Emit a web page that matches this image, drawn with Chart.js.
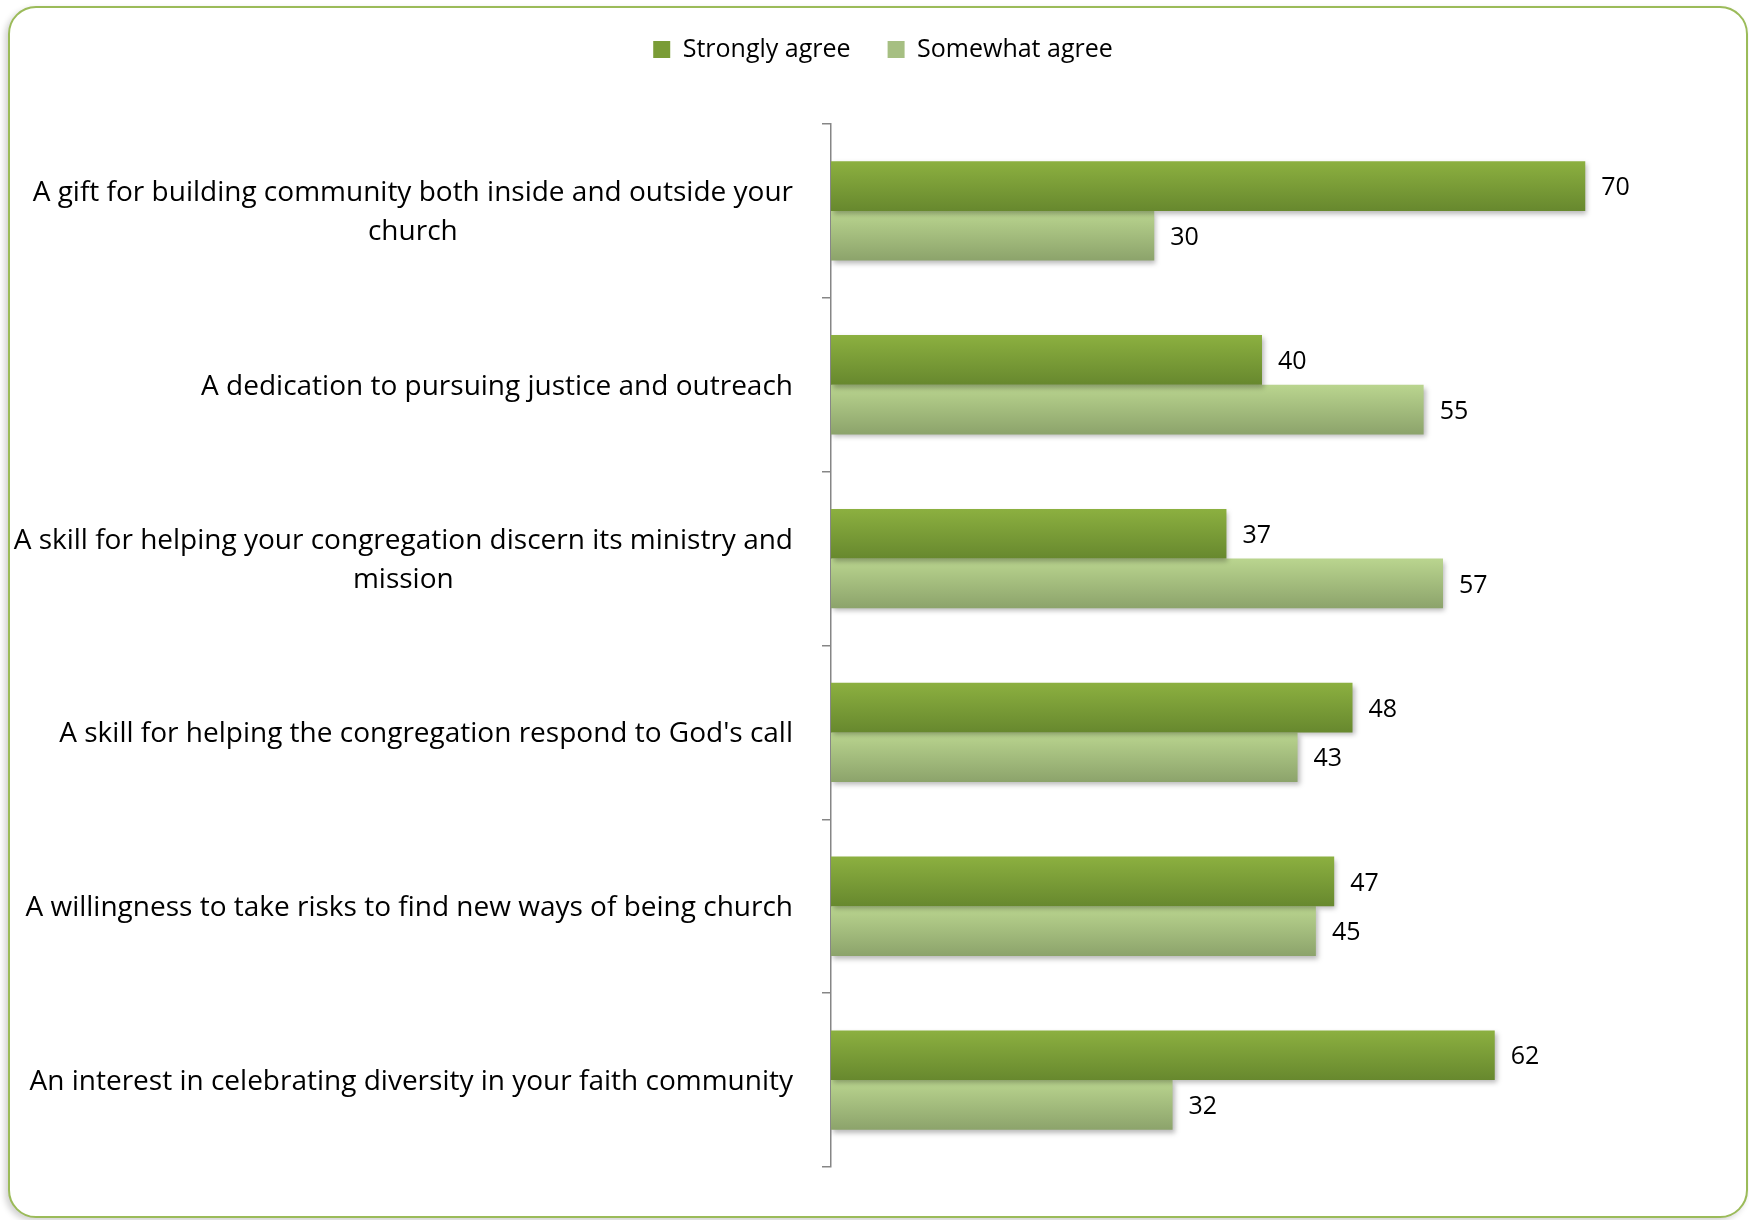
<!DOCTYPE html>
<html>
<head>
<meta charset="utf-8">
<title>Gifts and skills</title>
<script src="https://cdn.jsdelivr.net/npm/chart.js@4.4.1/dist/chart.umd.min.js"></script>
<style>
  html, body { margin: 0; padding: 0; background: #fff; }
  #wrap { position: relative; width: 1749px; height: 1220px; overflow: hidden; }
  #frame {
    position: absolute; left: 8px; top: 6px; width: 1740px; height: 1212px;
    box-sizing: border-box; border: 2px solid #9bbb59; border-radius: 28px;
    box-shadow: -3px 3px 6px rgba(0,0,0,0.18); background: #fff;
  }
  #chart { position: absolute; left: 0; top: 0; }
</style>
</head>
<body>
<div id="wrap">
  <div id="frame"></div>
  <canvas id="chart" width="1749" height="1220"></canvas>
</div>
<script>
const categories = [
  ['A gift for building community both inside and outside your', 'church'],
  ['A dedication to pursuing justice and outreach'],
  ['A skill for helping your congregation discern its ministry and', 'mission'],
  ["A skill for helping the congregation respond to God's call"],
  ['A willingness to take risks to find new ways of being church'],
  ['An interest in celebrating diversity in your faith community']
];
const seriesNames = ['Strongly agree', 'Somewhat agree'];
const stronglyAgree = [70, 40, 36.7, 48.4, 46.7, 61.6];
const somewhatAgree = [30, 55, 56.8, 43.3, 45, 31.7];

const FONT = '"Open Sans", "DejaVu Sans", sans-serif';
const CAT_FONT = 28;
const VALUE_FONT = 25;
const LEGEND_FONT = 25;
const CAT_PCT = 0.571; // Excel gap width ~75%

// vertical gradient per bar, like the Office "green" style
function barGradient(top, bottom) {
  return (ctx) => {
    const chart = ctx.chart;
    const y = chart.scales && chart.scales.y;
    if (!y || ctx.dataIndex === undefined || !chart.chartArea) return bottom;
    const center = y.getPixelForValue(ctx.dataIndex);
    const half = (y.bottom - y.top) / categories.length * CAT_PCT / 2;
    const y0 = ctx.datasetIndex === 0 ? center - half : center;
    const g = chart.ctx.createLinearGradient(0, y0, 0, y0 + half);
    g.addColorStop(0, top);
    g.addColorStop(1, bottom);
    return g;
  };
}

// legend gets a fixed height so the plot starts where it does in the original
const legendHeight = {
  id: 'legendHeight',
  afterInit(chart) {
    const legend = chart.legend;
    if (!legend) return;
    const fit = legend.fit;
    legend.fit = function () {
      fit.call(this);
      this.height = 124;
    };
  }
};

// soft drop shadow under the bars
const barShadow = {
  id: 'barShadow',
  beforeDatasetsDraw(chart) {
    const c = chart.ctx;
    c.save();
    c.shadowColor = 'rgba(0,0,0,0.28)';
    c.shadowBlur = 5;
    c.shadowOffsetX = 2;
    c.shadowOffsetY = 3;
  },
  afterDatasetsDraw(chart) {
    chart.ctx.restore();
  }
};

// value labels at the end of each bar
const valueLabels = {
  id: 'valueLabels',
  afterDatasetsDraw(chart) {
    const c = chart.ctx;
    c.save();
    c.font = VALUE_FONT + 'px ' + FONT;
    c.fillStyle = '#000';
    c.textAlign = 'left';
    c.textBaseline = 'middle';
    chart.data.datasets.forEach((ds, di) => {
      const meta = chart.getDatasetMeta(di);
      meta.data.forEach((bar, i) => {
        c.fillText(String(Math.round(ds.data[i])), bar.x + 16, bar.y + 2);
      });
    });
    c.restore();
  }
};

// category labels: block right-aligned to the axis, wrapped lines centred
const categoryLabels = {
  id: 'categoryLabels',
  afterDraw(chart) {
    const c = chart.ctx;
    const y = chart.scales.y;
    const right = chart.chartArea.left - 38;
    const lineH = 39;
    c.save();
    c.font = CAT_FONT + 'px ' + FONT;
    c.fillStyle = '#000';
    c.textAlign = 'center';
    c.textBaseline = 'middle';
    categories.forEach((lines, i) => {
      const w = Math.max(...lines.map(l => c.measureText(l).width));
      const cx = right - w / 2;
      const cy = y.getPixelForValue(i) + 2;
      lines.forEach((l, k) => {
        c.fillText(l, cx, cy + (k - (lines.length - 1) / 2) * lineH);
      });
    });
    c.restore();
  }
};

const legendColors = ['#7a9c36', '#a6bf82'];

new Chart(document.getElementById('chart'), {
  type: 'bar',
  data: {
    labels: categories.map(l => l.join(' ')),
    datasets: [
      {
        label: seriesNames[0],
        data: stronglyAgree,
        backgroundColor: barGradient('#8cb040', '#67882e'),
        borderWidth: 0,
        categoryPercentage: CAT_PCT,
        barPercentage: 1.0
      },
      {
        label: seriesNames[1],
        data: somewhatAgree,
        backgroundColor: barGradient('#bad58f', '#8ca36b'),
        borderWidth: 0,
        categoryPercentage: CAT_PCT,
        barPercentage: 1.0
      }
    ]
  },
  options: {
    indexAxis: 'y',
    responsive: false,
    animation: false,
    layout: { padding: { left: 73, right: 56, top: 0, bottom: 53 } },
    plugins: {
      legend: {
        position: 'top',
        align: 'center',
        labels: {
          boxWidth: 17,
          boxHeight: 17,
          padding: 37,
          color: '#000',
          font: { family: FONT, size: LEGEND_FONT },
          generateLabels: () => seriesNames.map((name, i) => ({
            text: name,
            fillStyle: legendColors[i],
            strokeStyle: legendColors[i],
            lineWidth: 0,
            hidden: false,
            datasetIndex: i
          }))
        }
      },
      tooltip: { enabled: false }
    },
    scales: {
      x: { display: false, min: 0, max: 80 },
      y: {
        type: 'category',
        offset: true,
        grid: {
          display: true,
          drawOnChartArea: false,
          drawTicks: true,
          tickLength: 9,
          offset: true,
          color: '#868686',
          lineWidth: 1.5
        },
        border: { display: true, color: '#868686', width: 1.5 },
        ticks: { display: false },
        afterFit(scale) { scale.width = 758; }
      }
    }
  },
  plugins: [legendHeight, barShadow, valueLabels, categoryLabels]
});
</script>
</body>
</html>
